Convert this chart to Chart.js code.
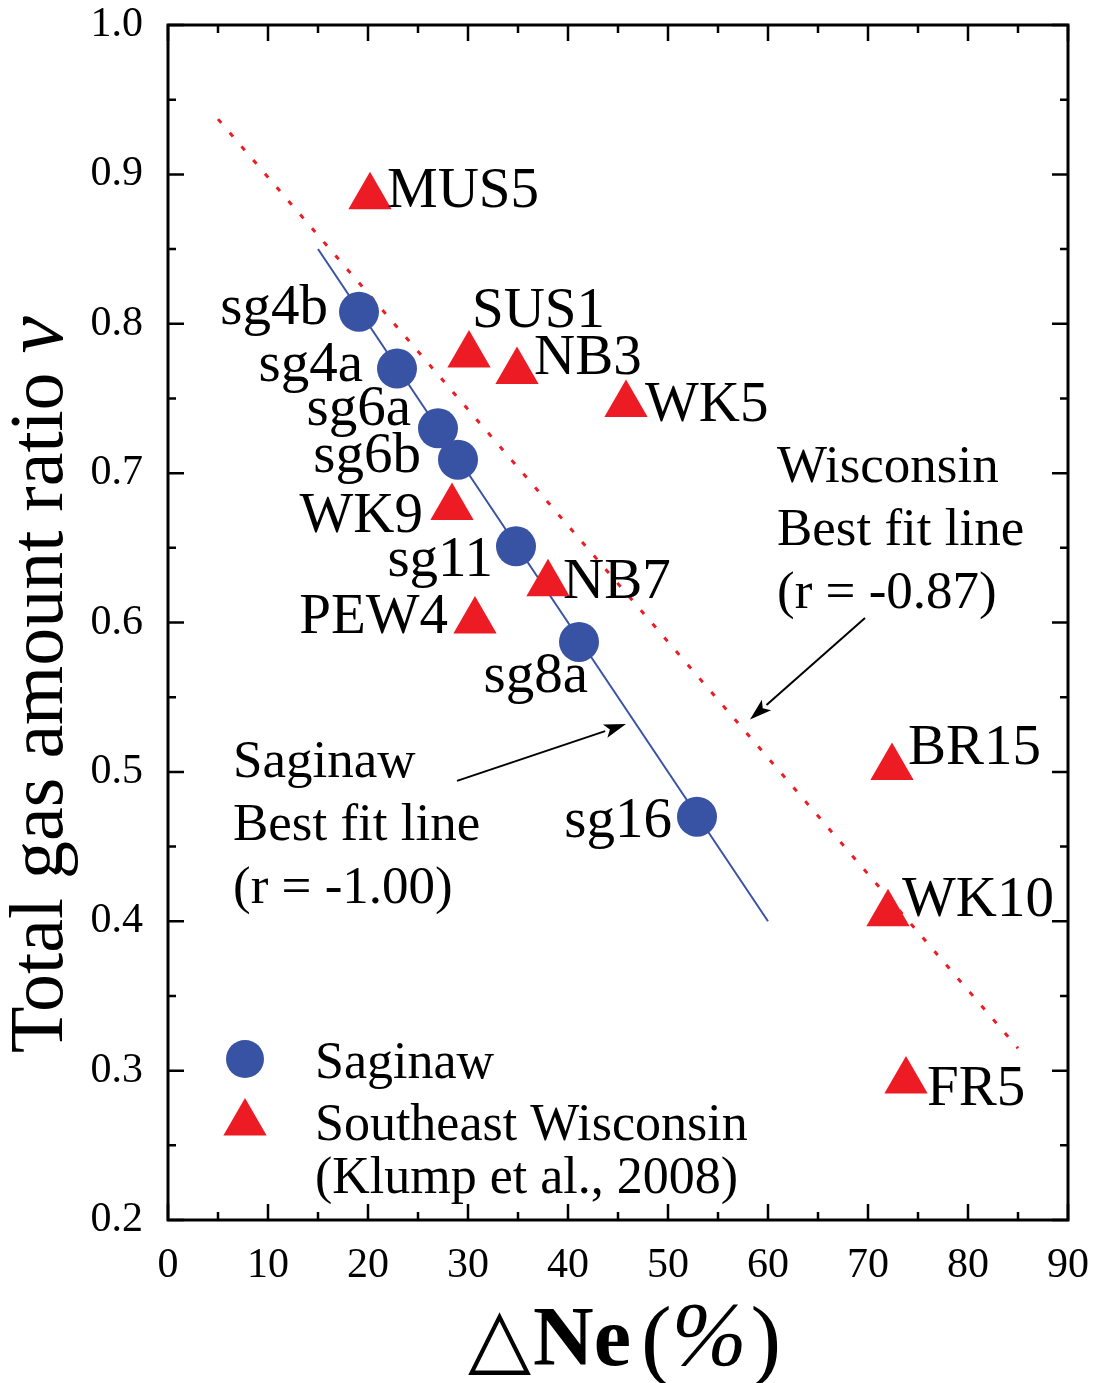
<!DOCTYPE html>
<html>
<head>
<meta charset="utf-8">
<script src="https://cdn.jsdelivr.net/npm/chart.js@4.4.1/dist/chart.umd.min.js"></script>
<style>
  html, body { margin: 0; padding: 0; background: #fff; }
  canvas { display: block; }
</style>
</head>
<body>
<canvas id="chart" width="1096" height="1383" style="width:1096px;height:1383px"></canvas>
<script>
// Saginaw samples
const saginawIds   = ['sg4b', 'sg4a', 'sg6a', 'sg6b', 'sg11', 'sg8a', 'sg16'];
const saginawNe    = [19.1, 22.9, 27.0, 29.0, 34.8, 41.1, 52.9];
const saginawRatio = [0.808, 0.770, 0.730, 0.709, 0.651, 0.587, 0.470];

// Southeast Wisconsin samples (Klump et al., 2008)
const wisconsinIds   = ['MUS5', 'SUS1', 'NB3', 'WK5', 'WK9', 'NB7', 'PEW4', 'BR15', 'WK10', 'FR5'];
const wisconsinNe    = [20.2, 30.1, 34.9, 45.8, 28.4, 38.0, 30.7, 72.4, 72.0, 73.8];
const wisconsinRatio = [0.885, 0.779, 0.768, 0.746, 0.677, 0.626, 0.601, 0.503, 0.405, 0.293];

// Best fit lines (end points)
const saginawFitNe      = [15, 60];
const saginawFitRatio   = [0.85, 0.40];
const wisconsinFitNe    = [5, 85];
const wisconsinFitRatio = [0.937, 0.315];

// Axis ticks
const xTickValues  = [0, 10, 20, 30, 40, 50, 60, 70, 80, 90];
const xMinorValues = [5, 15, 25, 35, 45, 55, 65, 75, 85];
const yTickValues  = [0.2, 0.3, 0.4, 0.5, 0.6, 0.7, 0.8, 0.9, 1.0];
const yMinorValues = [0.25, 0.35, 0.45, 0.55, 0.65, 0.75, 0.85, 0.95];

const BLUE = '#3953a4';
const RED = '#ed1c24';
const SERIF = '"Liberation Serif", "Times New Roman", serif';

const toPoints = (xs, ys) => xs.map((v, i) => ({ x: v, y: ys[i] }));

// Where each sample name sits relative to its marker (pixels)
const saginawLabelPlacement = [
  { dx: -31, dy: 12, align: 'right' },
  { dx: -34, dy: 12, align: 'right' },
  { dx: -27, dy: -3, align: 'right' },
  { dx: -37, dy: 12, align: 'right' },
  { dx: -23, dy: 30, align: 'right' },
  { dx: 9, dy: 50, align: 'right' },
  { dx: -25, dy: 20, align: 'right' }
];
const wisconsinLabelPlacement = [
  { dx: 17, dy: 10, align: 'left' },
  { dx: 3, dy: -28, align: 'left' },
  { dx: 17, dy: 2, align: 'left' },
  { dx: 19, dy: 17, align: 'left' },
  { dx: -29, dy: 25, align: 'right' },
  { dx: 15, dy: 14, align: 'left' },
  { dx: -27, dy: 12, align: 'right' },
  { dx: 16, dy: -3, align: 'left' },
  { dx: 14, dy: 2, align: 'left' },
  { dx: 21, dy: 24, align: 'left' }
];

// Fit-line notes: text anchor and arrow, in data coordinates
const fitNotes = [
  { lines: ['Wisconsin', 'Best fit line', '(r = -0.87)'], at: { x: 60.9, y: 0.694 },
    arrowFrom: { x: 69.7, y: 0.603 }, arrowTo: { x: 58.2, y: 0.535 } },
  { lines: ['Saginaw', 'Best fit line', '(r = -1.00)'], at: { x: 6.5, y: 0.4965 },
    arrowFrom: { x: 28.9, y: 0.494 }, arrowTo: { x: 45.8, y: 0.532 } }
];

function drawArrow(ctx, x1, y1, x2, y2) {
  const ang = Math.atan2(y2 - y1, x2 - x1);
  const head = 22, half = 7;
  const bx = x2 - head * Math.cos(ang), by = y2 - head * Math.sin(ang);
  ctx.beginPath();
  ctx.moveTo(x1, y1);
  ctx.lineTo(bx, by);
  ctx.stroke();
  ctx.beginPath();
  ctx.moveTo(x2, y2);
  ctx.lineTo(bx - half * Math.sin(ang), by + half * Math.cos(ang));
  ctx.lineTo(bx + 5 * Math.cos(ang), by + 5 * Math.sin(ang));
  ctx.lineTo(bx + half * Math.sin(ang), by - half * Math.cos(ang));
  ctx.closePath();
  ctx.fill();
}

const sampleLabels = {
  id: 'sampleLabels',
  afterDatasetsDraw(chart) {
    const ctx = chart.ctx;
    ctx.save();
    ctx.fillStyle = '#000';
    ctx.font = `57px ${SERIF}`;
    ctx.textBaseline = 'alphabetic';
    const groups = [
      { index: 0, names: saginawIds, place: saginawLabelPlacement },
      { index: 1, names: wisconsinIds, place: wisconsinLabelPlacement }
    ];
    groups.forEach(g => {
      chart.getDatasetMeta(g.index).data.forEach((pt, i) => {
        const p = g.place[i];
        ctx.textAlign = p.align;
        ctx.fillText(g.names[i], pt.x + p.dx, pt.y + p.dy);
      });
    });
    ctx.restore();
  }
};

const notesAndLegend = {
  id: 'notesAndLegend',
  afterDraw(chart) {
    const { ctx, chartArea: a, scales: { x, y } } = chart;
    ctx.save();

    // fit-line notes with arrows
    ctx.fillStyle = '#000';
    ctx.strokeStyle = '#000';
    ctx.lineWidth = 2;
    ctx.font = `53px ${SERIF}`;
    ctx.textAlign = 'left';
    ctx.textBaseline = 'alphabetic';
    fitNotes.forEach(n => {
      const tx = x.getPixelForValue(n.at.x), ty = y.getPixelForValue(n.at.y);
      n.lines.forEach((t, i) => ctx.fillText(t, tx, ty + i * 63));
      drawArrow(ctx,
        x.getPixelForValue(n.arrowFrom.x), y.getPixelForValue(n.arrowFrom.y),
        x.getPixelForValue(n.arrowTo.x), y.getPixelForValue(n.arrowTo.y));
    });

    // legend
    const lx = a.left + 77, tx = a.left + 147;
    ctx.fillStyle = BLUE;
    ctx.beginPath();
    ctx.arc(lx, a.top + 1034, 19, 0, Math.PI * 2);
    ctx.fill();
    ctx.fillStyle = RED;
    const r = 25, cy = a.top + 1098;
    ctx.beginPath();
    ctx.moveTo(lx, cy - r);
    ctx.lineTo(lx + r * Math.sin(2 * Math.PI / 3), cy + r / 2);
    ctx.lineTo(lx - r * Math.sin(2 * Math.PI / 3), cy + r / 2);
    ctx.closePath();
    ctx.fill();
    ctx.fillStyle = '#000';
    ctx.font = `52px ${SERIF}`;
    ctx.fillText('Saginaw', tx, a.top + 1053);
    ctx.fillText('Southeast Wisconsin', tx, a.top + 1115);
    ctx.fillText('(Klump et al., 2008)', tx, a.top + 1168);

    // frame
    ctx.strokeStyle = '#000';
    ctx.lineWidth = 3;
    ctx.strokeRect(a.left, a.top, a.right - a.left, a.bottom - a.top);

    // inward ticks on all four sides
    ctx.lineWidth = 2.5;
    ctx.beginPath();
    const xt = (vals, len) => vals.forEach(v => {
      const px = x.getPixelForValue(v);
      ctx.moveTo(px, a.bottom); ctx.lineTo(px, a.bottom - len);
      ctx.moveTo(px, a.top); ctx.lineTo(px, a.top + len);
    });
    const yt = (vals, len) => vals.forEach(v => {
      const py = y.getPixelForValue(v);
      ctx.moveTo(a.left, py); ctx.lineTo(a.left + len, py);
      ctx.moveTo(a.right, py); ctx.lineTo(a.right - len, py);
    });
    xt(xTickValues, 16); xt(xMinorValues, 8);
    yt(yTickValues, 16); yt(yMinorValues, 8);
    ctx.stroke();

    // y axis title
    ctx.save();
    ctx.translate(a.left - 106, a.top + 1028);
    ctx.rotate(-Math.PI / 2);
    ctx.fillStyle = '#000';
    ctx.textAlign = 'left';
    ctx.font = `76px ${SERIF}`;
    const yTitle = 'Total gas amount ratio ';
    ctx.fillText(yTitle, 0, 0);
    const w = ctx.measureText(yTitle).width;
    ctx.font = `italic 84px ${SERIF}`;
    ctx.fillText('\u03BD', w, 0);
    ctx.restore();

    // x axis title: △Ne (%)
    let cx = 468;
    const by = a.bottom + 145;
    ctx.textAlign = 'left';
    ctx.font = '82px "DejaVu Sans", sans-serif';
    ctx.fillText('\u25B3', cx, by);
    cx += ctx.measureText('\u25B3').width + 2;
    ctx.font = `bold 84px ${SERIF}`;
    ctx.fillText('Ne', cx, by);
    cx += ctx.measureText('Ne').width + 10;
    ctx.font = `92px ${SERIF}`;
    ctx.fillText('(', cx, by + 4);
    cx += ctx.measureText('(').width;
    ctx.font = `italic 90px ${SERIF}`;
    ctx.fillText('%', cx, by);
    cx += ctx.measureText('%').width + 4;
    ctx.font = `92px ${SERIF}`;
    ctx.fillText(')', cx, by + 4);

    ctx.restore();
  }
};

new Chart(document.getElementById('chart'), {
  type: 'scatter',
  data: {
    datasets: [
      {
        label: 'Saginaw',
        data: toPoints(saginawNe, saginawRatio),
        pointStyle: 'circle',
        pointRadius: 20,
        pointHoverRadius: 20,
        backgroundColor: BLUE,
        borderColor: BLUE,
        borderWidth: 0
      },
      {
        label: 'Southeast Wisconsin',
        data: toPoints(wisconsinNe, wisconsinRatio),
        pointStyle: 'triangle',
        pointRadius: 25,
        pointHoverRadius: 25,
        backgroundColor: RED,
        borderColor: RED,
        borderWidth: 0
      },
      {
        label: 'Saginaw best fit',
        data: toPoints(saginawFitNe, saginawFitRatio),
        showLine: true,
        pointRadius: 0,
        borderColor: BLUE,
        borderWidth: 2
      },
      {
        label: 'Wisconsin best fit',
        data: toPoints(wisconsinFitNe, wisconsinFitRatio),
        showLine: true,
        pointRadius: 0,
        borderColor: RED,
        borderWidth: 3,
        borderDash: [5, 13]
      }
    ]
  },
  options: {
    responsive: false,
    animation: false,
    devicePixelRatio: 1,
    layout: { padding: { top: 22, right: 28, left: 0, bottom: 0 } },
    plugins: { legend: { display: false }, tooltip: { enabled: false } },
    scales: {
      x: {
        type: 'linear',
        min: 0, max: 90,
        afterBuildTicks: s => { s.ticks = xTickValues.map(v => ({ value: v })); },
        afterFit: s => {
          s.height = 163;
          s.paddingLeft = 0; s.paddingRight = 0;
        },
        grid: { display: false, drawTicks: false },
        border: { display: false },
        ticks: {
          padding: 25,
          color: '#000',
          font: { family: SERIF, size: 42, lineHeight: 1 },
          callback: v => String(v)
        }
      },
      y: {
        type: 'linear',
        min: 0.2, max: 1.0,
        afterBuildTicks: s => { s.ticks = yTickValues.map(v => ({ value: v })); },
        afterFit: s => {
          s.width = 168;
          s.paddingTop = 0; s.paddingBottom = 0;
        },
        grid: { display: false, drawTicks: false },
        border: { display: false },
        ticks: {
          padding: 25,
          color: '#000',
          font: { family: SERIF, size: 42, lineHeight: 1 },
          callback: v => Number(v).toFixed(1)
        }
      }
    }
  },
  plugins: [sampleLabels, notesAndLegend]
});
</script>
</body>
</html>
